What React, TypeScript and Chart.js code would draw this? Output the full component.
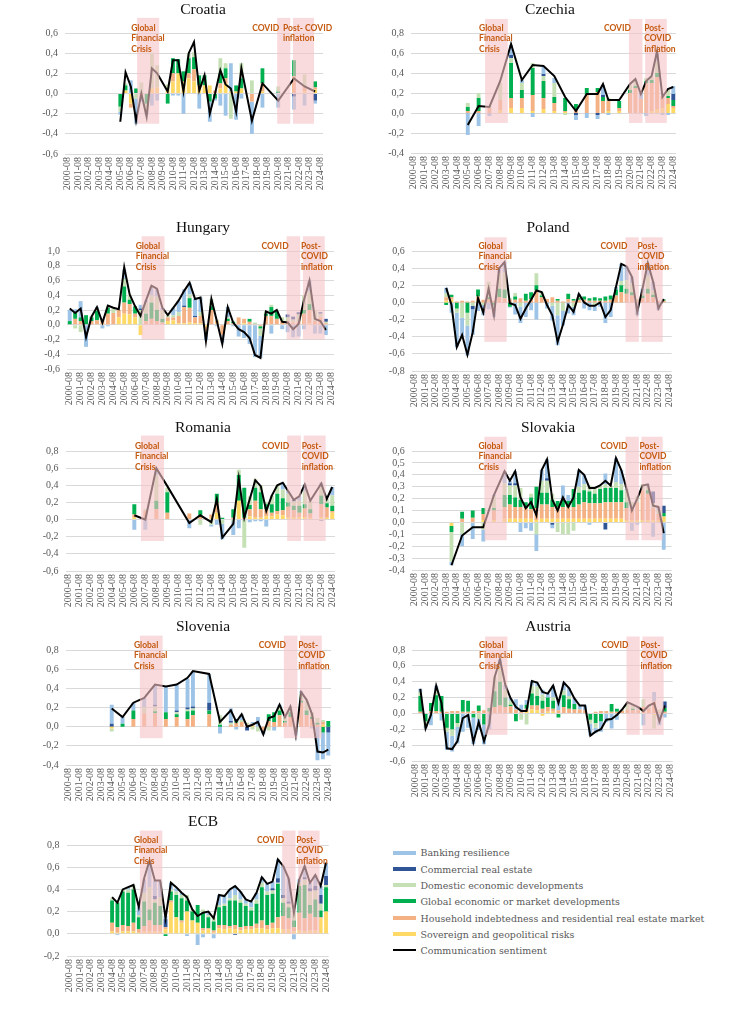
import { useEffect, useRef } from "react";
import { Chart, registerables } from "chart.js";
Chart.register(...registerables);

// half-year periods on the x axis
const periods = [
  "2000-08", "2001-02", "2001-08", "2002-02", "2002-08", "2003-02", "2003-08", "2004-02", "2004-08",
  "2005-02", "2005-08", "2006-02", "2006-08", "2007-02", "2007-08", "2008-02", "2008-08", "2009-02",
  "2009-08", "2010-02", "2010-08", "2011-02", "2011-08", "2012-02", "2012-08", "2013-02", "2013-08",
  "2014-02", "2014-08", "2015-02", "2015-08", "2016-02", "2016-08", "2017-02", "2017-08", "2018-02",
  "2018-08", "2019-02", "2019-08", "2020-02", "2020-08", "2021-02", "2021-08", "2022-02", "2022-08",
  "2023-02", "2023-08", "2024-02", "2024-08",
];

// stacking order, bottom first
const topics = [
  { label: "Sovereign and geopolitical risks", color: "#FFD966" },
  { label: "Household indebtedness and residential real estate market", color: "#F4B183" },
  { label: "Global economic or market developments", color: "#00B050" },
  { label: "Domestic economic developments", color: "#C5E0B4" },
  { label: "Commercial real estate", color: "#2F5597" },
  { label: "Banking resilience", color: "#9DC3E6" },
];

type Row = [string, number, number, number, number, number, number, number];
// [period, sentiment, sovereign, household, global, domestic, CRE, banking]

const croatiaRows: Row[] = [
  ["2005-08", -0.28, 0, 0, -0.13, -0.05, 0, -0.03],
  ["2006-02", 0.21, 0.03, 0, 0.05, 0.02, 0, 0],
  ["2006-08", 0.07, -0.1, -0.04, 0, 0, 0, 0.13],
  ["2007-02", -0.27, 0, 0, 0.05, -0.05, 0, -0.25],
  ["2007-08", 0.0, 0, -0.03, 0, 0.11, 0, -0.05],
  ["2008-02", -0.23, 0, 0, -0.1, -0.08, 0, -0.03],
  ["2008-08", 0.25, 0.05, 0, 0, 0.35, 0, -0.12],
  ["2009-02", 0.2, 0.06, 0, 0, 0.22, 0, -0.07],
  ["2010-02", 0.02, 0.04, 0, -0.1, 0.05, 0, 0],
  ["2010-08", 0.33, 0.12, 0.08, 0.15, 0, 0, -0.02],
  ["2011-02", 0.33, 0.2, 0, 0.14, 0, 0, -0.02],
  ["2011-08", 0.02, 0.12, 0, 0.1, 0, 0, -0.2],
  ["2012-02", 0.4, 0.15, 0.05, 0.15, 0.05, 0, 0],
  ["2012-08", 0.51, 0.12, 0.12, 0.12, 0.05, 0, 0],
  ["2013-02", 0.03, 0.08, 0, 0.1, 0, 0, -0.15],
  ["2013-08", 0.18, 0.08, 0, 0.1, 0, 0, 0],
  ["2014-02", -0.2, 0.08, 0, -0.08, 0, 0, -0.2],
  ["2014-08", 0.0, 0, 0.03, -0.05, 0, 0, -0.02],
  ["2015-02", 0.23, 0.05, 0.05, 0.1, 0.15, 0, -0.12],
  ["2015-08", 0.09, 0.1, 0.05, 0.1, 0.05, 0, -0.22],
  ["2016-02", 0.05, 0.02, 0, 0, -0.25, 0, 0.28],
  ["2016-08", -0.18, 0.02, 0, 0.06, 0, 0, -0.26],
  ["2017-02", 0.25, 0.05, 0, 0.1, 0.15, 0, -0.05],
  ["2018-02", -0.27, 0, -0.08, 0, 0.13, 0, -0.32],
  ["2019-02", 0.1, 0.02, 0.08, 0.15, 0, 0, -0.14],
  ["2020-08", -0.07, 0, 0, 0.02, 0.05, 0, -0.14],
  ["2022-02", 0.15, 0, 0.17, 0.16, 0, -0.03, -0.13],
  ["2023-02", 0.07, 0.02, 0.05, 0, 0.12, 0, -0.12],
  ["2024-02", 0.02, 0.04, 0.02, 0.06, 0, -0.07, -0.03],
];

const czechiaRows: Row[] = [
  ["2005-08", -0.12, 0, 0.02, 0.04, 0.04, 0, -0.22],
  ["2006-08", 0.07, 0, 0.02, 0.13, 0.05, 0, -0.13],
  ["2007-08", 0.06, 0, 0.05, 0, 0.02, 0, -0.03],
  ["2008-08", 0.32, 0.03, 0.1, 0, 0.17, 0, 0],
  ["2009-08", 0.69, 0.05, 0.1, 0.35, 0.05, 0.03, 0.1],
  ["2010-08", 0.33, 0.05, 0.1, 0.08, 0.07, 0, 0.03],
  ["2011-08", 0.48, 0.02, 0.16, 0.27, 0.05, 0, -0.04],
  ["2012-08", 0.47, 0.04, 0.11, 0.17, 0.05, 0.02, 0.07],
  ["2013-08", 0.37, 0.02, 0.08, 0.06, 0.14, 0, 0.05],
  ["2014-08", 0.16, 0.01, 0.01, 0.13, -0.02, 0, 0],
  ["2015-08", 0.02, 0, 0.03, 0.06, 0, -0.02, -0.05],
  ["2016-08", 0.19, 0, 0.18, 0.07, 0, 0, -0.05],
  ["2017-08", 0.19, 0, 0.21, 0.04, 0, -0.02, -0.04],
  ["2018-02", 0.29, 0, 0.12, 0.04, 0, 0.02, 0.1],
  ["2018-08", 0.13, 0.02, 0.1, 0, 0.03, 0, -0.02],
  ["2019-08", 0.13, 0.02, 0.03, 0.07, 0, 0, 0],
  ["2020-08", 0.29, 0, 0.2, 0.03, 0.05, 0, 0],
  ["2021-02", 0.34, 0, 0.25, 0.02, 0.05, 0, 0],
  ["2021-08", 0.19, 0, 0.14, 0, 0, 0, 0.06],
  ["2022-02", 0.32, 0, 0.3, 0.02, 0.03, 0, -0.03],
  ["2022-08", 0.37, 0.02, 0.28, 0.03, 0.03, 0, 0],
  ["2023-02", 0.62, 0.04, 0.32, 0.04, 0.12, 0, 0.08],
  ["2023-08", 0.16, 0.05, 0.12, 0, 0, 0, -0.02],
  ["2024-02", 0.24, 0.09, 0.06, 0.02, 0.06, 0, -0.02],
  ["2024-08", 0.26, 0.05, 0.02, 0.06, 0, 0.06, 0.08],
];

const hungaryRows: Row[] = [
  ["2000-08", 0.22, 0, 0, 0.05, 0, 0, 0.15],
  ["2001-02", 0.16, 0, 0.08, 0.08, -0.05, 0, 0.05],
  ["2001-08", 0.22, 0, 0.05, 0.05, -0.1, 0, 0.22],
  ["2002-02", -0.17, 0, 0, 0.13, 0, 0, -0.3],
  ["2002-08", 0.11, 0, 0.05, 0.05, 0.02, 0, 0],
  ["2003-02", 0.24, 0, 0.06, 0.13, 0.03, 0, 0.02],
  ["2003-08", 0.03, 0, 0.05, 0, 0.02, 0, -0.05],
  ["2004-02", 0.26, 0, 0.15, 0.08, 0.02, 0, -0.02],
  ["2004-08", 0.23, 0, 0.16, 0, 0.06, 0, 0],
  ["2005-02", 0.21, 0.1, 0.1, 0, 0, 0, 0],
  ["2005-08", 0.78, 0.15, 0.15, 0.22, 0.1, 0, 0.13],
  ["2006-02", 0.41, 0.14, 0.14, 0.06, 0.06, 0, 0],
  ["2006-08", 0.25, 0.1, 0.05, 0.1, 0, 0, 0],
  ["2007-02", 0.12, -0.14, 0, 0, 0.2, 0.02, 0.05],
  ["2007-08", 0.33, 0, 0.05, 0.1, 0.15, 0, 0.03],
  ["2008-02", 0.53, 0, 0.08, 0.22, 0.1, 0, 0.12],
  ["2008-08", 0.49, 0, 0.05, 0.15, 0.18, 0, 0.1],
  ["2009-02", 0.23, 0, 0.03, 0.05, 0.12, 0, 0.03],
  ["2009-08", 0.13, 0.05, 0.05, 0, 0.03, 0, 0],
  ["2010-02", 0.23, 0.06, 0.04, 0, 0.03, 0, 0.1],
  ["2010-08", 0.33, 0.02, 0.1, 0, 0.05, 0, 0.15],
  ["2011-02", 0.46, 0.02, 0.22, 0, 0, 0.02, 0.22],
  ["2011-08", 0.57, 0.03, 0.2, 0.13, 0.05, 0, 0.15],
  ["2012-02", 0.35, 0.02, 0.08, 0, 0, 0.02, 0.23],
  ["2012-08", 0.37, 0.02, 0.1, 0, 0.05, 0, 0.2],
  ["2013-02", -0.22, -0.03, -0.05, 0, -0.05, 0, -0.08],
  ["2013-08", 0.35, 0, 0.2, 0.05, 0.1, 0, 0],
  ["2014-02", 0.05, 0.02, 0.03, 0, 0.02, 0, -0.02],
  ["2014-08", -0.26, 0, -0.14, 0, 0, 0, -0.1],
  ["2015-02", 0.24, 0, 0.05, 0.03, 0.02, 0, 0.14],
  ["2015-08", 0.03, 0, 0.02, 0.02, 0.01, 0, -0.02],
  ["2016-02", -0.06, 0, 0.1, 0, 0, 0, -0.16],
  ["2016-08", -0.1, 0.02, 0.06, 0, 0, 0, -0.18],
  ["2017-02", -0.18, 0, 0.04, 0.04, 0, 0, -0.26],
  ["2017-08", -0.41, 0, 0.01, 0, 0.02, 0, -0.44],
  ["2018-02", -0.45, 0, -0.02, -0.03, -0.1, 0, -0.3],
  ["2018-08", 0.18, 0, 0.12, 0.03, 0.03, 0, 0],
  ["2019-02", 0.15, 0, 0.12, 0.12, 0.03, 0, -0.12],
  ["2019-08", 0.2, 0, 0.08, 0.1, 0.02, 0, 0],
  ["2020-02", 0.04, 0, 0.05, 0, 0.05, 0, -0.06],
  ["2020-08", 0.03, 0, 0.05, 0, 0.05, 0.04, -0.1],
  ["2021-02", -0.06, 0, 0.03, 0, 0.04, 0.04, -0.17],
  ["2021-08", 0.01, 0, 0.04, 0, 0.1, 0.03, -0.16],
  ["2022-02", 0.34, 0, 0.15, 0.05, 0.2, 0, -0.06],
  ["2022-08", 0.6, 0.02, 0.18, 0.08, 0.17, 0, 0.15],
  ["2023-02", 0.08, 0, 0.05, 0, 0.14, 0, -0.12],
  ["2023-08", 0.05, 0, 0.1, 0, 0.05, 0.02, -0.12],
  ["2024-02", -0.07, 0, 0.02, 0, 0.02, 0.04, -0.14],
];

const polandRows: Row[] = [
  ["2003-08", 0.17, 0.02, 0.04, -0.03, 0.05, 0, 0.06],
  ["2004-02", -0.03, 0.03, 0.03, 0.03, 0, 0, -0.12],
  ["2004-08", -0.52, 0, 0.01, -0.07, -0.05, 0, -0.4],
  ["2005-02", -0.38, 0, 0.02, 0, -0.18, 0, -0.22],
  ["2005-08", -0.61, 0, 0.01, -0.12, -0.15, 0, -0.35],
  ["2006-02", -0.35, 0, 0.02, 0, -0.04, -0.04, -0.3],
  ["2006-08", 0.05, 0.02, 0.05, 0.08, 0, 0, -0.1],
  ["2007-02", -0.12, 0, 0.03, 0, -0.03, 0, -0.12],
  ["2007-08", 0.16, 0, 0.04, 0.02, 0.18, 0, -0.08],
  ["2008-02", -0.15, 0, 0.02, -0.03, 0, 0, -0.14],
  ["2008-08", 0.4, 0, 0.06, 0.1, 0.18, 0, 0.06],
  ["2009-02", 0.47, 0, 0.05, 0.1, 0.2, 0, 0.12],
  ["2009-08", -0.01, 0, 0.03, -0.05, 0.02, 0, -0.01],
  ["2010-02", -0.03, 0, 0.03, 0.04, 0.04, 0, -0.14],
  ["2010-08", -0.19, 0, 0.05, 0, -0.05, 0, -0.19],
  ["2011-02", -0.07, 0, 0.02, 0.08, 0, 0, -0.17],
  ["2011-08", 0.03, 0, 0.04, 0.08, 0, 0, -0.09],
  ["2012-02", 0.14, 0, 0.14, 0.06, 0.14, 0, -0.2],
  ["2012-08", 0.12, 0, 0.06, 0.02, 0.04, 0, 0],
  ["2013-02", -0.03, 0, 0.04, 0, 0, 0, -0.07],
  ["2013-08", -0.15, 0, 0.06, 0, -0.04, 0, -0.17],
  ["2014-02", -0.46, 0, 0.02, 0.02, -0.15, 0, -0.35],
  ["2014-08", -0.26, 0, 0.01, 0, -0.1, 0, -0.17],
  ["2015-02", -0.03, 0, 0.04, 0.06, 0, 0, -0.13],
  ["2015-08", -0.11, 0, 0.02, 0.02, -0.05, 0, -0.1],
  ["2016-02", 0.1, 0, 0.03, 0.02, 0.02, 0, 0.03],
  ["2016-08", 0.0, 0, 0.03, 0.04, 0, 0, -0.07],
  ["2017-02", -0.04, 0, 0.02, 0.03, 0, 0, -0.09],
  ["2017-08", -0.04, 0, 0.02, 0.04, -0.04, 0, -0.06],
  ["2018-02", 0.0, 0, 0.02, 0.03, 0, 0, -0.05],
  ["2018-08", -0.17, 0, 0.02, 0.05, 0, 0, -0.24],
  ["2019-02", -0.09, 0, 0.03, 0.05, 0, 0, -0.17],
  ["2019-08", 0.18, 0, 0.08, 0.07, 0, 0, 0.03],
  ["2020-02", 0.45, 0, 0.12, 0.08, 0.05, 0, 0.2],
  ["2020-08", 0.42, 0, 0.1, 0.06, 0.1, 0, 0.16],
  ["2021-02", 0.3, 0, 0.08, 0.04, 0.1, 0, 0.08],
  ["2021-08", -0.11, 0, 0.02, 0, 0.02, 0, -0.15],
  ["2022-02", 0.16, 0, 0.05, 0.03, 0.03, 0, 0.05],
  ["2022-08", 0.46, 0, 0.1, 0.06, 0.15, 0, 0.15],
  ["2023-02", 0.24, 0, 0.06, 0.03, 0.05, 0, 0.1],
  ["2023-08", -0.07, 0, 0.02, 0, 0, 0, -0.09],
  ["2024-02", 0.04, 0, 0.02, 0.01, 0.01, 0, 0],
];

const romaniaRows: Row[] = [
  ["2006-08", 0.05, 0.02, 0.04, 0.12, 0, 0, -0.12],
  ["2007-08", 0.0, 0, 0.1, 0, 0.02, 0, -0.12],
  ["2008-08", 0.6, 0, 0.12, 0.1, 0.3, 0, 0.05],
  ["2009-08", 0.39, 0, 0.08, 0.24, 0.05, 0, 0],
  ["2011-08", -0.04, 0, 0.07, 0, 0, 0, -0.1],
  ["2012-08", 0.05, 0, 0.03, 0.08, -0.06, 0, 0],
  ["2013-08", -0.03, 0.02, 0.04, 0, -0.06, 0, -0.02],
  ["2014-02", 0.24, 0.08, 0.12, 0.1, 0, 0, -0.06],
  ["2014-08", -0.21, 0, 0, 0.02, -0.05, 0, -0.18],
  ["2015-08", -0.05, 0, 0.02, 0.1, -0.02, 0, -0.16],
  ["2016-02", 0.48, 0.22, 0, 0.3, 0.06, 0, -0.1],
  ["2016-08", 0.02, 0, 0.02, 0.35, -0.33, 0, 0],
  ["2017-02", 0.24, 0.04, 0.08, 0.05, 0.1, 0, -0.03],
  ["2017-08", 0.46, 0.02, 0.2, 0.15, 0.1, 0, -0.02],
  ["2018-02", 0.39, 0.02, 0.1, 0.2, 0.08, 0, -0.02],
  ["2018-08", 0.1, 0.04, 0.08, 0.06, 0.02, 0, -0.08],
  ["2019-02", 0.28, 0.04, 0.04, 0.1, 0.1, 0, 0],
  ["2019-08", 0.4, 0.06, 0.04, 0.2, 0.1, 0, 0],
  ["2020-02", 0.43, 0.05, 0.06, 0.14, 0.1, 0, 0.08],
  ["2020-08", 0.33, 0.03, 0.12, 0.05, 0.1, 0, 0.03],
  ["2021-02", 0.23, 0.03, 0.08, 0.05, 0.05, 0.02, 0],
  ["2021-08", 0.27, 0.03, 0.05, 0.08, 0.06, 0, 0.05],
  ["2022-02", 0.41, 0.03, 0.1, 0.05, 0.15, 0, 0.08],
  ["2022-08", 0.22, 0.02, 0.05, 0.05, 0.1, 0, 0],
  ["2023-08", 0.42, 0.03, 0.15, 0.1, 0.1, -0.01, 0.05],
  ["2024-02", 0.24, 0.02, 0.12, 0.05, 0.05, 0, 0],
  ["2024-08", 0.38, 0.08, 0.02, 0.06, 0.12, 0, 0.1],
];

const slovakiaRows: Row[] = [
  ["2004-02", -0.36, -0.03, 0, -0.05, -0.25, 0, -0.03],
  ["2005-02", -0.11, 0, 0.03, 0.06, -0.1, 0, -0.1],
  ["2006-02", -0.04, 0, 0.04, 0.06, 0, 0, -0.14],
  ["2007-02", -0.04, 0.02, 0.05, 0.05, -0.06, 0, -0.1],
  ["2008-02", 0.23, 0.02, 0.08, 0.02, 0.1, 0, 0.01],
  ["2009-02", 0.43, 0.03, 0.1, 0.1, 0.1, 0, 0.1],
  ["2009-08", 0.35, 0.03, 0.12, 0.08, 0.08, 0.02, 0.02],
  ["2010-02", 0.43, 0.03, 0.1, 0.08, 0.1, 0.02, 0.1],
  ["2010-08", 0.21, 0.03, 0.1, 0.06, 0.1, 0, -0.08],
  ["2011-02", 0.12, 0.03, 0.09, 0.05, 0, 0, -0.05],
  ["2011-08", 0.17, 0.03, 0.08, 0.1, 0.03, 0, -0.07],
  ["2012-02", 0.06, 0.02, 0.1, 0.18, -0.1, 0, -0.14],
  ["2012-08", 0.44, 0.03, 0.12, 0.1, 0.1, 0, 0.09],
  ["2013-02", 0.53, 0.03, 0.12, 0.1, 0.1, 0.02, 0.16],
  ["2013-08", 0.19, 0.03, 0.1, 0.06, 0.05, -0.02, -0.03],
  ["2014-02", 0.1, 0.03, 0.1, 0.05, -0.08, 0, 0],
  ["2014-08", 0.21, 0.03, 0.1, 0.06, -0.1, 0, 0.12],
  ["2015-02", 0.13, 0.03, 0.1, 0.05, -0.1, 0, 0.05],
  ["2015-08", 0.21, 0.03, 0.1, 0.15, -0.07, 0, 0],
  ["2016-02", 0.44, 0.03, 0.12, 0.1, 0.05, 0, 0.14],
  ["2016-08", 0.4, 0.03, 0.14, 0.1, 0.05, 0, 0.08],
  ["2017-02", 0.29, 0.03, 0.13, 0.1, 0.05, 0, -0.02],
  ["2017-08", 0.29, 0.03, 0.13, 0.08, 0.05, 0, 0],
  ["2018-02", 0.31, 0.03, 0.13, 0.12, 0.03, 0, 0],
  ["2018-08", 0.35, 0.03, 0.14, 0.12, 0.03, -0.06, 0.09],
  ["2019-02", 0.31, 0.03, 0.14, 0.12, 0.02, 0, 0],
  ["2019-08", 0.54, 0.03, 0.14, 0.12, 0.05, 0, 0.2],
  ["2020-02", 0.44, 0.03, 0.14, 0.1, 0.05, 0, 0.12],
  ["2020-08", 0.28, 0.02, 0.1, 0.05, 0.1, 0, 0.01],
  ["2021-02", 0.1, 0.02, 0.1, 0, 0.05, 0, -0.07],
  ["2021-08", 0.2, 0.02, 0.15, 0, 0.05, 0, -0.02],
  ["2022-02", 0.31, 0.02, 0.25, 0, 0.05, 0, 0],
  ["2022-08", 0.32, 0.02, 0.22, 0.03, 0.03, 0, 0.02],
  ["2023-02", 0.14, 0.02, 0.1, 0, 0.04, 0.1, -0.12],
  ["2023-08", 0.13, 0.02, 0.05, 0, 0.03, 0, 0.03],
  ["2024-02", -0.09, 0.05, 0, 0.03, 0, 0.06, -0.23],
];

const sloveniaRows: Row[] = [
  ["2004-08", 0.19, -0.02, 0, 0, -0.03, 0.03, 0.2],
  ["2005-08", 0.1, 0, 0, 0.03, 0, 0, 0.07],
  ["2006-08", 0.25, 0, 0.08, 0.09, 0, 0, 0.08],
  ["2007-08", 0.3, 0, 0.14, 0, 0.06, 0, 0.1],
  ["2008-08", 0.44, 0, 0.14, 0.02, 0.05, 0.02, 0.2],
  ["2009-08", 0.42, 0, 0.08, 0.07, 0, 0, 0.27],
  ["2010-08", 0.44, 0, 0.1, 0.03, 0.02, 0.02, 0.27],
  ["2011-08", 0.51, 0, 0.08, 0.08, 0.02, 0.02, 0.3],
  ["2012-02", 0.58, 0, 0.12, 0.05, 0.02, 0.02, 0.37],
  ["2013-08", 0.55, 0, 0.13, 0.04, 0, 0.08, 0.3],
  ["2014-08", 0.05, 0, 0, 0.02, 0.1, 0, -0.07],
  ["2015-08", 0.17, 0, 0.02, 0, 0.02, 0.02, 0.13],
  ["2016-02", 0.05, 0, 0.04, 0.02, 0, 0.02, -0.03],
  ["2016-08", 0.13, 0, 0.05, 0, 0.02, 0, 0.06],
  ["2017-02", 0.0, 0, 0.02, 0, 0.02, -0.04, 0],
  ["2017-08", 0.02, 0.01, 0.02, 0, -0.03, 0, 0.02],
  ["2018-02", 0.05, 0, 0, 0, -0.05, 0, 0.1],
  ["2018-08", -0.08, 0, -0.04, 0, 0, 0, -0.04],
  ["2019-02", 0.09, 0, 0.06, 0.07, -0.04, 0, 0],
  ["2019-08", 0.11, 0, 0.05, 0.1, 0, 0, -0.04],
  ["2020-02", 0.23, 0, 0.12, 0.05, 0.03, 0, 0.03],
  ["2020-08", 0.1, 0, 0.04, 0.02, 0.04, 0, 0],
  ["2021-02", 0.21, 0, 0.1, 0.05, 0.05, 0, 0.01],
  ["2021-08", -0.09, 0, 0, 0, -0.04, 0, -0.05],
  ["2022-02", 0.36, 0, 0.25, 0.02, 0.08, 0, 0.02],
  ["2022-08", 0.28, 0, 0.12, 0.05, 0.1, 0, 0],
  ["2023-02", 0.13, 0, 0.08, 0.02, 0.05, 0, -0.02],
  ["2023-08", -0.26, 0, 0.02, 0.02, 0.05, 0, -0.35],
  ["2024-02", -0.27, 0.02, 0.03, -0.06, 0.02, 0, -0.28],
  ["2024-08", -0.24, 0, 0, 0.06, 0, -0.06, -0.24],
];

const austriaRows: Row[] = [
  ["2001-02", 0.31, 0, 0.02, 0.2, 0.05, 0, 0.04],
  ["2001-08", -0.19, 0, 0, -0.1, -0.05, 0, -0.04],
  ["2002-02", -0.02, 0, 0.03, 0.1, 0, 0, -0.15],
  ["2002-08", 0.35, 0, 0.03, 0.2, 0.05, 0, 0.07],
  ["2003-02", 0.13, 0, 0.02, 0.2, 0, 0, -0.09],
  ["2003-08", -0.44, 0, 0.02, -0.18, -0.05, 0, -0.23],
  ["2004-02", -0.45, 0, 0.03, -0.2, -0.08, 0, -0.2],
  ["2004-08", -0.35, 0, 0.03, -0.12, -0.05, 0, -0.21],
  ["2005-02", -0.06, 0, 0.02, 0.15, 0, 0, -0.23],
  ["2005-08", -0.02, 0, 0.02, 0.14, 0, 0, -0.18],
  ["2006-02", -0.36, 0, 0.03, -0.05, 0, 0, -0.34],
  ["2006-08", -0.11, 0, 0.03, 0.07, -0.07, 0, -0.14],
  ["2007-02", -0.35, 0, 0.04, -0.14, 0, 0, -0.25],
  ["2007-08", -0.13, 0, 0.02, 0.05, 0, 0, -0.2],
  ["2008-02", 0.46, 0, 0.08, 0.2, 0.18, 0, 0],
  ["2008-08", 0.68, 0, 0.1, 0.3, 0.22, 0, 0.06],
  ["2009-02", 0.36, 0, 0.08, 0.12, 0.1, 0, 0.06],
  ["2009-08", 0.19, 0, 0.09, 0.02, 0.05, 0, 0.03],
  ["2010-02", 0.08, 0, 0.05, -0.1, 0, 0, 0.13],
  ["2010-08", 0.03, 0, 0.02, 0, -0.08, 0, 0.09],
  ["2011-02", 0.03, 0.03, 0.03, 0.05, -0.14, 0, 0.06],
  ["2011-08", 0.41, 0.05, 0.05, 0.15, 0.1, 0, 0.06],
  ["2012-02", 0.39, 0.04, 0.06, 0.12, 0.12, 0, 0.05],
  ["2012-08", 0.27, -0.03, 0.06, 0.1, 0.08, 0, 0.06],
  ["2013-02", 0.25, 0.02, 0.06, 0.12, 0, 0, 0.05],
  ["2013-08", 0.35, 0.02, 0.04, 0.1, 0.04, 0, 0.15],
  ["2014-02", 0.13, 0, 0.04, -0.05, 0, 0, 0.14],
  ["2014-08", 0.39, 0, 0.08, 0.15, 0.06, 0, 0.1],
  ["2015-02", 0.32, 0, 0.06, 0.12, 0.04, 0, 0.1],
  ["2015-08", 0.19, 0, 0.05, 0.07, 0, 0, 0.07],
  ["2016-02", 0.1, 0, 0.05, 0, 0, 0, 0.05],
  ["2016-08", 0.1, 0, 0.04, 0, 0, 0, 0.06],
  ["2017-02", -0.28, 0, 0, -0.08, -0.05, 0, -0.15],
  ["2017-08", -0.23, 0, 0.02, -0.12, -0.06, 0, -0.07],
  ["2018-02", -0.2, 0, 0.03, -0.1, 0, 0, -0.13],
  ["2018-08", -0.08, 0, 0.03, 0, 0, 0, -0.11],
  ["2019-02", -0.07, 0, 0.02, 0.1, 0, 0, -0.19],
  ["2019-08", -0.02, 0, 0.02, 0.04, 0, 0, -0.08],
  ["2020-02", 0.05, 0, 0.03, 0, 0.02, 0, 0],
  ["2020-08", 0.14, 0, 0.05, 0, 0.09, 0, 0],
  ["2021-02", 0.11, 0, 0.04, 0.02, 0.05, 0, 0],
  ["2021-08", 0.08, 0, 0.04, 0, 0.02, 0, 0.02],
  ["2022-02", 0.03, 0, 0.08, 0, 0.1, 0, -0.15],
  ["2022-08", 0.1, 0, 0.06, 0, 0.04, 0, 0],
  ["2023-02", 0.13, -0.02, 0.15, 0, -0.17, 0, 0.12],
  ["2023-08", -0.1, 0, 0.02, 0, 0.03, 0, -0.15],
  ["2024-02", 0.1, 0, 0.02, 0.05, 0, 0.08, -0.05],
];

const ecbRows: Row[] = [
  ["2004-08", 0.33, 0.02, 0.08, 0.2, 0.02, 0, 0],
  ["2005-02", 0.28, 0.01, 0.05, 0.22, 0.01, 0, -0.01],
  ["2005-08", 0.4, 0.02, 0.06, 0.3, 0.02, 0, 0],
  ["2006-02", 0.42, 0.02, 0.05, 0.3, 0.03, 0, 0.02],
  ["2006-08", 0.44, 0.02, 0.08, 0.3, 0.04, 0, 0],
  ["2007-02", 0.24, 0.01, 0.03, 0.11, 0.02, 0, 0.07],
  ["2007-08", 0.5, 0.02, 0.05, 0.22, 0.08, 0, 0.12],
  ["2008-02", 0.66, 0.02, 0.1, 0.1, 0.2, 0, 0.24],
  ["2008-08", 0.48, 0.02, 0.06, 0.2, 0.03, 0.03, 0.14],
  ["2009-02", 0.48, 0.02, 0.06, 0.17, 0.08, 0, 0.14],
  ["2009-08", 0.14, 0.04, 0.02, -0.02, 0, 0.07, 0.03],
  ["2010-02", 0.46, 0.28, 0.02, 0.08, 0.02, 0, 0.06],
  ["2010-08", 0.42, 0.15, 0, 0.2, 0.03, 0, 0.03],
  ["2011-02", 0.37, 0.1, 0.02, 0.2, 0.03, 0, 0.02],
  ["2011-08", 0.33, 0.2, 0, 0.1, 0.05, 0, -0.02],
  ["2012-02", 0.22, 0.12, 0, 0.08, 0.02, 0, 0],
  ["2012-08", 0.16, 0.1, 0, 0.16, 0, 0, -0.1],
  ["2013-02", 0.19, 0.03, 0.02, 0.14, 0.03, 0, -0.03],
  ["2013-08", 0.2, 0.04, 0.01, 0.1, 0.02, 0, 0.03],
  ["2014-02", 0.14, 0.01, 0.02, 0.08, 0.04, 0, -0.04],
  ["2014-08", 0.35, 0.05, 0.03, 0.16, 0.02, 0, 0.09],
  ["2015-02", 0.34, 0.04, 0.04, 0.17, 0.02, 0, 0.07],
  ["2015-08", 0.4, 0.05, 0.02, 0.23, 0.02, 0, 0.08],
  ["2016-02", 0.43, 0.04, 0.04, 0.22, 0.05, -0.01, 0.08],
  ["2016-08", 0.38, 0.03, 0.03, 0.22, 0.03, 0, 0.07],
  ["2017-02", 0.31, 0.04, 0.03, 0.18, 0.02, 0, 0.04],
  ["2017-08", 0.29, 0.04, 0.03, 0.14, 0.03, 0, 0.05],
  ["2018-02", 0.37, 0.05, 0.04, 0.18, 0.04, 0, 0.06],
  ["2018-08", 0.51, 0.05, 0.07, 0.3, 0.04, 0, 0.05],
  ["2019-02", 0.45, 0.04, 0.04, 0.27, 0.03, 0, 0.07],
  ["2019-08", 0.47, 0.05, 0.05, 0.26, 0.03, 0.02, 0.06],
  ["2020-02", 0.67, 0.05, 0.1, 0.3, 0.01, 0.04, 0.17],
  ["2020-08", 0.61, 0.04, 0.12, 0.12, 0.04, 0.03, 0.26],
  ["2021-02", 0.5, 0.04, 0.1, 0.1, 0.03, 0.02, 0.21],
  ["2021-08", 0.19, 0.02, 0.04, 0.06, 0.08, 0, -0.05],
  ["2022-02", 0.49, 0.03, 0.16, 0.24, 0.03, 0, 0.03],
  ["2022-08", 0.61, 0.02, 0.12, 0.3, 0.05, 0.02, 0.1],
  ["2023-02", 0.46, 0.03, 0.15, 0.08, 0.12, 0.03, 0.05],
  ["2023-08", 0.53, 0.03, 0.12, 0.16, 0.08, 0.04, 0.1],
  ["2024-02", 0.43, 0.14, 0.01, 0.06, 0.06, 0.08, 0.08],
  ["2024-08", 0.64, 0.2, 0, 0.22, 0.02, 0.08, 0.12],
];

// shaded episodes, in category index units
const episodes = { gfc: [13.2, 17.4], covid: [39.8, 42.3], post: [42.8, 46.8] };

type PanelSpec = {
  title: string;
  rows: Row[];
  col: number;
  area: [number, number, number, number]; // left, top, right, bottom in page px
  min: number;
  max: number;
  step: number;
  band: [number, number];
  titleX: number;
  post: string[];
  postDx: number;
};

const POST3 = ["Post-", "COVID", "inflation"];

const panels: PanelSpec[] = [
  { title: "Croatia", rows: croatiaRows, col: 0, area: [65, 33, 323, 154], min: -0.6, max: 0.6, step: 0.2, band: [0.75, -0.3], titleX: 203, post: ["Post- COVID", "inflation"], postDx: -10 },
  { title: "Czechia", rows: czechiaRows, col: 1, area: [411, 33.3, 676, 153.3], min: -0.4, max: 0.8, step: 0.2, band: [0.94, -0.1], titleX: 550, post: POST3, postDx: -1 },
  { title: "Hungary", rows: hungaryRows, col: 0, area: [67, 250.7, 334, 369], min: -0.6, max: 1.0, step: 0.2, band: [1.2, -0.2], titleX: 203, post: POST3, postDx: -2 },
  { title: "Poland", rows: polandRows, col: 1, area: [411.7, 250.7, 671.7, 370.7], min: -0.8, max: 0.6, step: 0.2, band: [0.76, -0.46], titleX: 548, post: POST3, postDx: -4 },
  { title: "Romania", rows: romaniaRows, col: 0, area: [65.6, 450.7, 335, 570.7], min: -0.6, max: 0.8, step: 0.2, band: [0.98, -0.25], titleX: 203, post: POST3, postDx: -2 },
  { title: "Slovakia", rows: slovakiaRows, col: 1, area: [411.7, 450.7, 671.7, 570.3], min: -0.4, max: 0.6, step: 0.1, band: [0.72, -0.15], titleX: 548, post: POST3, postDx: -2 },
  { title: "Slovenia", rows: sloveniaRows, col: 0, area: [65.7, 650, 331, 765], min: -0.4, max: 0.8, step: 0.2, band: [0.95, -0.12], titleX: 203, post: POST3, postDx: -2 },
  { title: "Austria", rows: austriaRows, col: 1, area: [412.3, 650, 672.7, 761], min: -0.6, max: 0.8, step: 0.2, band: [0.97, -0.27], titleX: 548, post: POST3, postDx: -2 },
  { title: "ECB", rows: ecbRows, col: 0, area: [66.6, 845, 328.7, 956], min: -0.2, max: 0.8, step: 0.2, band: [0.93, 0.0], titleX: 203, post: POST3, postDx: -2 },
];

const COL_W = 377;
const Y_AXIS_W = 30;
const X_AXIS_H = 40;
const TOP_PAD = 40;
const BOTTOM_PAD = 5;

function Panel({ spec }: { spec: PanelSpec }) {
  const ref = useRef<HTMLCanvasElement | null>(null);
  const [L, T, R, B] = spec.area;
  const cx = spec.col * COL_W;
  const cy = T - TOP_PAD;
  const w = COL_W;
  const h = B - T + TOP_PAD + X_AXIS_H + BOTTOM_PAD;

  useEffect(() => {
    if (!ref.current) return;
    const series = topics.map(() => periods.map(() => null as number | null));
    const sentiment = periods.map(() => null as number | null);
    spec.rows.forEach((r) => {
      const i = periods.indexOf(r[0]);
      sentiment[i] = r[1];
      topics.forEach((_, k) => {
        const v = r[2 + k];
        series[k][i] = v === 0 ? null : v;
      });
    });

    const decor = {
      id: "decor",
      afterDatasetsDraw(chart: any) {
        const { ctx, chartArea, scales } = chart;
        const xs = scales.x;
        const ys = scales.y;
        const px = (v: number) => xs.getPixelForValue(v);
        ctx.save();
        ctx.fillStyle = "rgba(245,195,200,0.6)";
        const y0 = ys.getPixelForValue(spec.band[0]);
        const y1 = ys.getPixelForValue(spec.band[1]);
        [episodes.gfc, episodes.covid, episodes.post].forEach(([a, b]) => {
          ctx.fillRect(px(a), y0, px(b) - px(a), y1 - y0);
        });

        ctx.fillStyle = "#C55A11";
        ctx.font = "bold 8.5px Lato";
        ctx.textBaseline = "middle";
        const ty = chartArea.top - 5;
        ctx.textAlign = "left";
        ["Global", "Financial", "Crisis"].forEach((t, k) => ctx.fillText(t, px(episodes.gfc[0]) - 6, ty + k * 10.4));
        ctx.textAlign = "right";
        ctx.fillText("COVID", px(episodes.covid[0]) + 2, ty);
        ctx.textAlign = "left";
        spec.post.forEach((t, k) => ctx.fillText(t, px(episodes.post[0]) + spec.postDx, ty + k * 10.4));

        ctx.fillStyle = "#111";
        ctx.font = "15.5px 'Liberation Serif'";
        ctx.textAlign = "center";
        ctx.fillText(spec.title, spec.titleX - cx, chartArea.top - 23);
        ctx.restore();
      },
    };

    const chart = new Chart(ref.current, {
      type: "bar",
      data: {
        labels: periods,
        datasets: [
          ...topics.map((t, k) => ({
            type: "bar" as const,
            label: t.label,
            data: series[k],
            backgroundColor: t.color,
            borderWidth: 0,
            stack: "topics",
            barPercentage: 0.72,
            categoryPercentage: 1,
            order: 1,
          })),
          {
            type: "line" as const,
            label: "Communication sentiment",
            data: sentiment,
            borderColor: "#000",
            borderWidth: 2,
            pointRadius: 0,
            spanGaps: true,
            tension: 0,
            stack: "line",
            order: 0,
          },
        ],
      },
      options: {
        animation: false,
        responsive: false,
        events: [],
        layout: {
          padding: { left: L - cx - Y_AXIS_W, right: cx + w - R, top: TOP_PAD, bottom: BOTTOM_PAD },
        },
        plugins: { legend: { display: false }, tooltip: { enabled: false }, title: { display: false } },
        scales: {
          x: {
            stacked: true,
            grid: { display: false, drawTicks: false },
            border: { display: false },
            afterFit: (s: any) => { s.height = X_AXIS_H; },
            ticks: {
              autoSkip: false,
              maxRotation: 90,
              minRotation: 90,
              padding: 3,
              color: "#595959",
              font: { family: "Liberation Serif", size: 10 },
              callback: (_v: any, i: number) => (i % 2 === 0 ? periods[i] : ""),
            },
          },
          y: {
            stacked: true,
            min: spec.min,
            max: spec.max,
            grid: { color: "#D9D9D9", lineWidth: 1, drawTicks: false },
            border: { display: false },
            afterFit: (s: any) => { s.width = Y_AXIS_W; },
            ticks: {
              stepSize: spec.step,
              autoSkip: false,
              maxTicksLimit: 20,
              padding: 7,
              color: "#595959",
              font: { family: "Liberation Serif", size: 10 },
              callback: (v: any) => {
                const n = Math.abs(Number(v)) < 1e-9 ? 0 : Number(v);
                return n.toFixed(1).replace(".", ",");
              },
            },
          },
        },
      },
      plugins: [decor],
    });

    return () => chart.destroy();
  }, [spec]);

  return (
    <canvas
      ref={ref}
      width={w}
      height={h}
      style={{ position: "absolute", left: cx, top: cy, width: w, height: h }}
    />
  );
}

const legendRows = [
  { label: "Banking resilience", color: "#9DC3E6", y: 852.7 },
  { label: "Commercial real estate", color: "#2F5597", y: 869 },
  { label: "Domestic economic developments", color: "#C5E0B4", y: 885 },
  { label: "Global economic or market developments", color: "#00B050", y: 901 },
  { label: "Household indebtedness and residential real estate market", color: "#F4B183", y: 918 },
  { label: "Sovereign and geopolitical risks", color: "#FFD966", y: 934 },
  { label: "Communication sentiment", color: "#000", y: 950, line: true },
];

function Legend() {
  return (
    <>
      {legendRows.map((r) => (
        <div
          key={r.label}
          style={{
            position: "absolute",
            left: 393,
            top: r.y - 7,
            height: 14,
            display: "flex",
            alignItems: "center",
            whiteSpace: "nowrap",
            fontFamily: "'DejaVu Serif'",
            fontSize: 9.45,
            color: "#595959",
          }}
        >
          <span
            style={{
              display: "inline-block",
              width: 23,
              height: r.line ? 1.6 : 4,
              background: r.color,
              marginRight: 4.5,
            }}
          />
          {r.label}
        </div>
      ))}
    </>
  );
}

export default function App() {
  return (
    <div style={{ position: "absolute", left: 0, top: 0, width: 754, height: 1024, background: "#fff", overflow: "hidden" }}>
      {panels.map((p) => (
        <Panel key={p.title} spec={p} />
      ))}
      <Legend />
    </div>
  );
}
